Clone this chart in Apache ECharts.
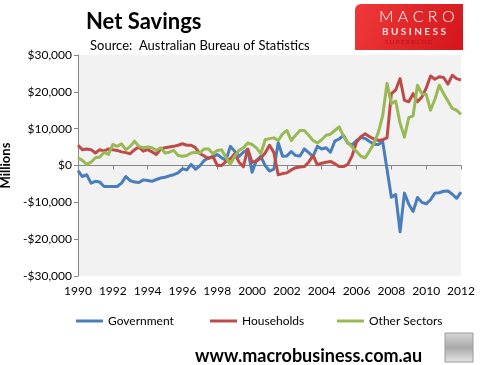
<!DOCTYPE html>
<html><head><meta charset="utf-8">
<script src="https://cdn.jsdelivr.net/npm/echarts@6/dist/echarts.min.js"></script>
<style>html,body{margin:0;padding:0;background:#fff}#c{width:482px;height:365px}</style>
</head><body><div id="c"></div>
<script>
// Quarterly, 1990 Q1 .. 2012 Q1 ($ billions; axis shows $ millions)
const startYear = 1990;
const xTicks = ['1990','1992','1994','1996','1998','2000','2002','2004','2006','2008','2010','2012'];
const seriesNames = ['Government', 'Households', 'Other Sectors'];
const government = [
 -1.4,-3.0,-2.5,-4.8, -4.3,-4.5,-5.7,-5.7, -5.7,-5.7,-4.8,-3.0, -4.1,-4.5,-4.6,-3.9,
 -4.1,-4.3,-3.8,-3.4, -3.2,-2.8,-2.5,-2.0, -0.9,-1.2,0.3,-1.0, -0.1,1.4,2.1,2.3,
 3.0,2.1,1.4,5.2, 3.9,2.5,3.6,4.3, -1.8,1.4,2.5,0.0, -1.5,-1.0,6.2,2.5,
 2.6,3.8,2.7,2.6, 4.5,3.5,2.5,5.2, 4.5,4.8,3.6,6.6, 7.2,8.2,6.0,5.6,
 6.8,7.6,7.3,6.5, 5.8,5.7,6.5,-1.0, -8.6,-7.9,-18.0,-7.5, -10.5,-12.5,-8.7,-10.0,
 -10.4,-9.3,-7.5,-7.4, -7.0,-6.9,-7.8,-8.9, -7.2];
const households = [
 5.5,4.3,4.5,4.3, 3.4,4.3,3.9,4.5, 4.3,4.1,3.7,3.5, 3.2,4.3,5.0,3.9,
 4.3,3.7,3.0,4.5, 4.8,5.0,5.2,5.5, 5.9,5.5,5.5,4.8, 3.2,2.6,1.9,2.5,
 0.0,0.0,1.1,1.8, 3.2,0.9,-0.3,4.5, 0.9,1.2,2.0,3.4, 5.5,3.5,-2.5,-2.2,
 -2.0,-1.2,-0.6,-0.4, -0.3,0.9,2.7,0.2, 0.6,0.9,1.1,0.5, -0.3,-0.3,0.3,2.7,
 6.4,7.8,8.6,7.8, 7.2,6.8,7.0,7.5, 19.5,20.5,23.6,17.7, 17.3,19.5,17.3,18.6,
 21.0,24.3,23.4,24.1, 23.9,22.1,24.5,23.6, 23.2];
const otherSectors = [
 2.1,1.4,0.3,0.9, 2.1,2.3,3.6,3.0, 5.7,5.2,5.9,4.3, 5.2,6.6,5.2,4.8,
 5.0,4.8,4.1,4.8, 3.4,3.6,4.1,2.7, 2.5,2.7,3.4,3.6, 3.4,4.5,4.5,3.2,
 4.1,4.3,2.2,0.3, 2.5,4.1,4.8,6.1, 5.7,4.8,3.2,7.0, 7.3,7.5,6.8,8.6,
 9.5,6.8,8.2,9.5, 9.5,8.2,6.8,6.1, 7.0,8.2,8.5,9.5, 10.5,8.0,6.2,5.0,
 3.8,2.5,2.1,4.0, 6.0,9.0,13.5,22.3, 16.8,17.5,11.5,7.7, 13.0,13.5,21.8,19.5,
 19.3,15.0,18.0,21.8, 19.5,17.5,15.5,15.0, 13.9];
const yTicks = [-30000,-20000,-10000,0,10000,20000,30000];
const colors = ['#4a7ebb', '#be4b48', '#98b954'];

const toPairs = arr => arr.map((v, i) => [startYear + i / 4, v * 1000]);
const FONT = 'Lato, "Open Sans", sans-serif';
const fmtY = v => (v < 0 ? '-' : '') + '$' + Math.abs(v).toLocaleString('en-US');

const chart = echarts.init(document.getElementById('c'), null, {renderer: 'canvas'});
const xBase = {type: 'value', min: Number(xTicks[0]), max: Number(xTicks[xTicks.length - 1]), interval: 2, splitLine: {show: false}};
chart.setOption({
  animation: false,
  color: colors,
  title: [
    {text: 'Net Savings', left: 86, top: 11, padding: 0, textStyle: {fontFamily: FONT, fontSize: 22, fontWeight: 'bold', color: '#000'}},
    {text: 'Source:  Australian Bureau of Statistics', left: 90, top: 39, padding: 0, textStyle: {fontFamily: FONT, fontSize: 13, fontWeight: 'normal', color: '#000'}},
    {text: 'www.macrobusiness.com.au', left: 195, top: 347, padding: 0, textStyle: {fontFamily: FONT, fontSize: 18, fontWeight: 'bold', color: '#000'}}
  ],
  grid: {left: 78, right: 21, top: 55, bottom: 89, show: true, backgroundColor: '#f2f2f2', borderWidth: 0,
         containLabel: false, outerBoundsMode: 'none'},
  xAxis: [
    Object.assign({}, xBase, {position: 'bottom', axisLine: {show: false, onZero: false}, axisTick: {show: false},
      axisLabel: {fontFamily: FONT, fontSize: 12, color: '#000', margin: 9, formatter: v => String(v)}}),
    Object.assign({}, xBase, {position: 'bottom', axisLine: {show: true, onZero: true, lineStyle: {color: '#868686', width: 1}},
      axisTick: {show: true, length: 4, lineStyle: {color: '#868686'}}, axisLabel: {show: false}})
  ],
  yAxis: {
    type: 'value', min: yTicks[0], max: yTicks[yTicks.length - 1], interval: 10000,
    name: 'Millions', nameLocation: 'middle', nameGap: 60, nameRotate: 90,
    nameTextStyle: {fontFamily: FONT, fontSize: 13, fontWeight: 'bold', color: '#000'},
    axisLine: {show: true, lineStyle: {color: '#868686'}},
    axisTick: {show: true, length: 4, lineStyle: {color: '#868686'}},
    splitLine: {show: false},
    axisLabel: {fontFamily: FONT, fontSize: 12, color: '#000', margin: 6, formatter: fmtY}
  },
  legend: seriesNames.map((n, i) => ({
    data: [n], left: [76, 210, 337][i], top: 315, padding: 0, icon: 'rect', itemWidth: 27, itemHeight: 3,
    textStyle: {fontFamily: FONT, fontSize: 12, color: '#000'}
  })),
  series: [government, households, otherSectors].map((arr, i) => ({
    name: seriesNames[i], type: 'line', xAxisIndex: 0, data: toPairs(arr), symbol: 'none',
    lineStyle: {width: 3, color: colors[i], join: 'round'}, itemStyle: {color: colors[i]}
  })),
  graphic: [
    {type: 'rect', shape: {x: 355, y: 4, width: 108, height: 46, r: [6, 0, 0, 0]},
     style: {fill: new echarts.graphic.LinearGradient(0, 0, 1, 1, [{offset: 0, color: '#f0383a'}, {offset: 1, color: '#d4161b'}])}},
    {type: 'text', left: 379, top: 9, style: {text: 'M A C R O', fill: '#fff', font: '300 16px Lato, sans-serif'}},
    {type: 'text', left: 382, top: 27, style: {text: 'B U S I N E S S', fill: '#fbe0e0', font: 'bold 10px Lato, sans-serif'}},
    {type: 'text', left: 385, top: 39, style: {text: 'S U P E R B L O G', fill: '#a8181b', font: '6px Lato, sans-serif'}},
    {type: 'rect', shape: {x: 445, y: 333, width: 28, height: 29},
     style: {fill: new echarts.graphic.LinearGradient(0, 0, 0, 1, [{offset: 0, color: '#d8d8d8'}, {offset: 0.5, color: '#a9a9a9'}, {offset: 1, color: '#e6e6e6'}]), stroke: '#9a9a9a', lineWidth: 1}}
  ]
});
</script></body></html>
